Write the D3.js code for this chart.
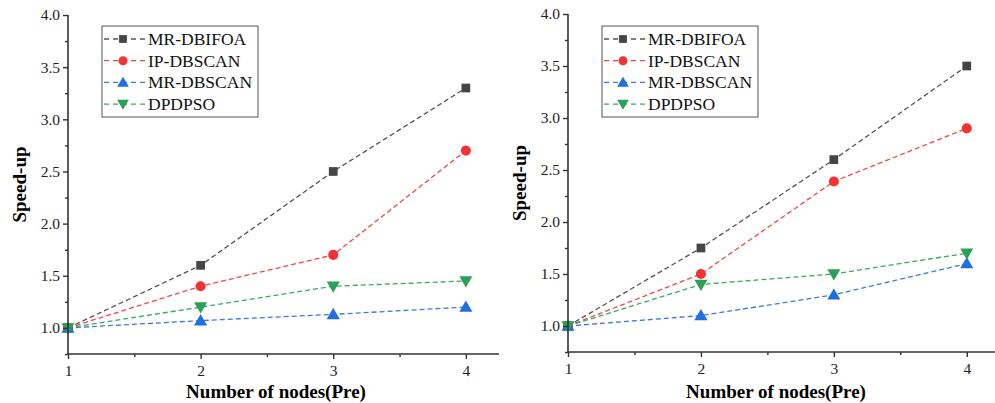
<!DOCTYPE html>
<html>
<head>
<meta charset="utf-8">
<script src="https://cdn.jsdelivr.net/npm/d3@7"></script>
<style>
  body { margin: 0; background: #fff; }
  svg { display: block; }
</style>
</head>
<body>
<svg id="chart"></svg>
<script>
// data
const nodes = [1, 2, 3, 4]
const seriesNames = ['MR-DBIFOA', 'IP-DBSCAN', 'MR-DBSCAN', 'DPDPSO']

// left panel
const leftDBIFOA = [1.0, 1.6, 2.5, 3.3]
const leftIPDBSCAN = [1.0, 1.4, 1.7, 2.7]
const leftMRDBSCAN = [1.0, 1.07, 1.13, 1.2]
const leftDPDPSO = [1.0, 1.2, 1.4, 1.45]

// right panel
const rightDBIFOA = [1.0, 1.75, 2.6, 3.5]
const rightIPDBSCAN = [1.0, 1.5, 2.39, 2.9]
const rightMRDBSCAN = [1.0, 1.1, 1.3, 1.6]
const rightDPDPSO = [1.0, 1.4, 1.5, 1.7]

const yTicks = [1.0, 1.5, 2.0, 2.5, 3.0, 3.5, 4.0]
const yMinorTicks = [0.75, 1.25, 1.75, 2.25, 2.75, 3.25, 3.75]
const xMinorTicks = [1.5, 2.5, 3.5]

const lineColors = ['#555555', '#f04848', '#3b7be0', '#3aa864']
const markColors = ['#454545', '#f03434', '#1f6fe0', '#2c9f58']
const symbols = [d3.symbolSquare, d3.symbolCircle, d3.symbolTriangle, d3.symbolTriangle]
const symSizes = [76, 80, 74, 74]
const symRotate = [0, 0, 0, 180]

const width = 995, height = 403
const font = '"Liberation Serif", "Times New Roman", serif'

let svg = d3.select('#chart')
    .attr('width', width)
    .attr('height', height)
    .attr('viewBox', [0, 0, width, height])

let panels = [
    { left: 68, right: 499, top: 15, bottom: 354, series: [leftDBIFOA, leftIPDBSCAN, leftMRDBSCAN, leftDPDPSO], legend: [102, 26] },
    { left: 568, right: 1000, top: 14, bottom: 352, series: [rightDBIFOA, rightIPDBSCAN, rightMRDBSCAN, rightDPDPSO], legend: [602, 26] }
]

panels.forEach(p => {
    let x = d3.scaleLinear().domain([1, 4.25]).range([p.left, p.right])
    let y = d3.scaleLinear().domain([0.75, 4.0]).range([p.bottom, p.top])

    let g = svg.append('g')

    // lines + markers
    p.series.forEach((vals, i) => {
        let pts = nodes.map((n, j) => [n, vals[j]])
        g.append('path')
            .attr('fill', 'none')
            .attr('stroke', lineColors[i])
            .attr('stroke-width', 1.3)
            .attr('stroke-dasharray', '5,3')
            .attr('d', d3.line().x(d => x(d[0])).y(d => y(d[1]))(pts))
    })
    p.series.forEach((vals, i) => {
        g.selectAll(null)
            .data(nodes.map((n, j) => [n, vals[j]]))
            .join('path')
            .attr('fill', markColors[i])
            .attr('d', d3.symbol(symbols[i], symSizes[i]))
            .attr('transform', d => `translate(${x(d[0])},${y(d[1]) + (symRotate[i] ? -1 : (i == 2 ? 1 : 0))}) rotate(${symRotate[i]})`)
    })

    // axes
    let yAxis = g.append('g')
        .attr('transform', `translate(${p.left},0)`)
        .call(d3.axisLeft(y).tickValues(yTicks).tickSize(5).tickPadding(3).tickFormat(d3.format('.1f')))
    g.append('g')
        .attr('transform', `translate(${p.left},0)`)
        .call(d3.axisLeft(y).tickValues(yMinorTicks).tickSize(3).tickFormat(''))
        .select('.domain').remove()

    let xAxis = g.append('g')
        .attr('transform', `translate(0,${p.bottom})`)
        .call(d3.axisBottom(x).tickValues(nodes).tickSize(5).tickPadding(6).tickFormat(d3.format('d')))
    g.append('g')
        .attr('transform', `translate(0,${p.bottom})`)
        .call(d3.axisBottom(x).tickValues(xMinorTicks).tickSize(3).tickFormat(''))
        .select('.domain').remove()

    g.selectAll('.domain').attr('stroke', '#333').attr('stroke-width', 1.6)
    g.selectAll('.tick line').attr('stroke', '#333').attr('stroke-width', 1.4)
    g.selectAll('g').attr('font-family', font)
    g.selectAll('.tick text')
        .attr('font-family', font)
        .attr('font-size', 15.5)
        .attr('fill', '#222')
    xAxis.select('.domain').attr('d', `M${p.left},0H${p.right}`)
    yAxis.select('.domain').attr('d', `M0,${p.top}V${p.bottom}`)

    // axis titles
    g.append('text')
        .attr('font-family', font)
        .attr('font-weight', 'bold')
        .attr('font-size', 19)
        .attr('text-anchor', 'middle')
        .attr('x', p.left + 208)
        .attr('y', 398)
        .text('Number of nodes(Pre)')

    g.append('text')
        .attr('font-family', font)
        .attr('font-weight', 'bold')
        .attr('font-size', 19)
        .attr('text-anchor', 'middle')
        .attr('transform', `translate(${p.left - 42},${(p.top + p.bottom) / 2}) rotate(-90)`)
        .text('Speed-up')

    // legend
    let [lx, ly] = p.legend
    let lg = g.append('g').attr('transform', `translate(${lx},${ly})`)
    lg.append('rect')
        .attr('width', 156)
        .attr('height', 91)
        .attr('fill', '#fff')
        .attr('stroke', '#555')
        .attr('stroke-width', 1)
    seriesNames.forEach((name, i) => {
        let ry = 13 + i * 21.7
        lg.append('line')
            .attr('x1', 2).attr('x2', 43)
            .attr('y1', ry).attr('y2', ry)
            .attr('stroke', lineColors[i])
            .attr('stroke-width', 1.3)
            .attr('stroke-dasharray', '5,4')
        lg.append('path')
            .attr('fill', markColors[i])
            .attr('d', d3.symbol(symbols[i], symSizes[i] * 0.8))
            .attr('transform', `translate(21,${ry + (symRotate[i] ? -1 : (i == 2 ? 1 : 0))}) rotate(${symRotate[i]})`)
        lg.append('text')
            .attr('font-family', font)
            .attr('font-size', 17.5)
            .attr('fill', '#111')
            .attr('x', 46)
            .attr('y', ry + 6)
            .text(name)
    })
})
</script>
</body>
</html>
